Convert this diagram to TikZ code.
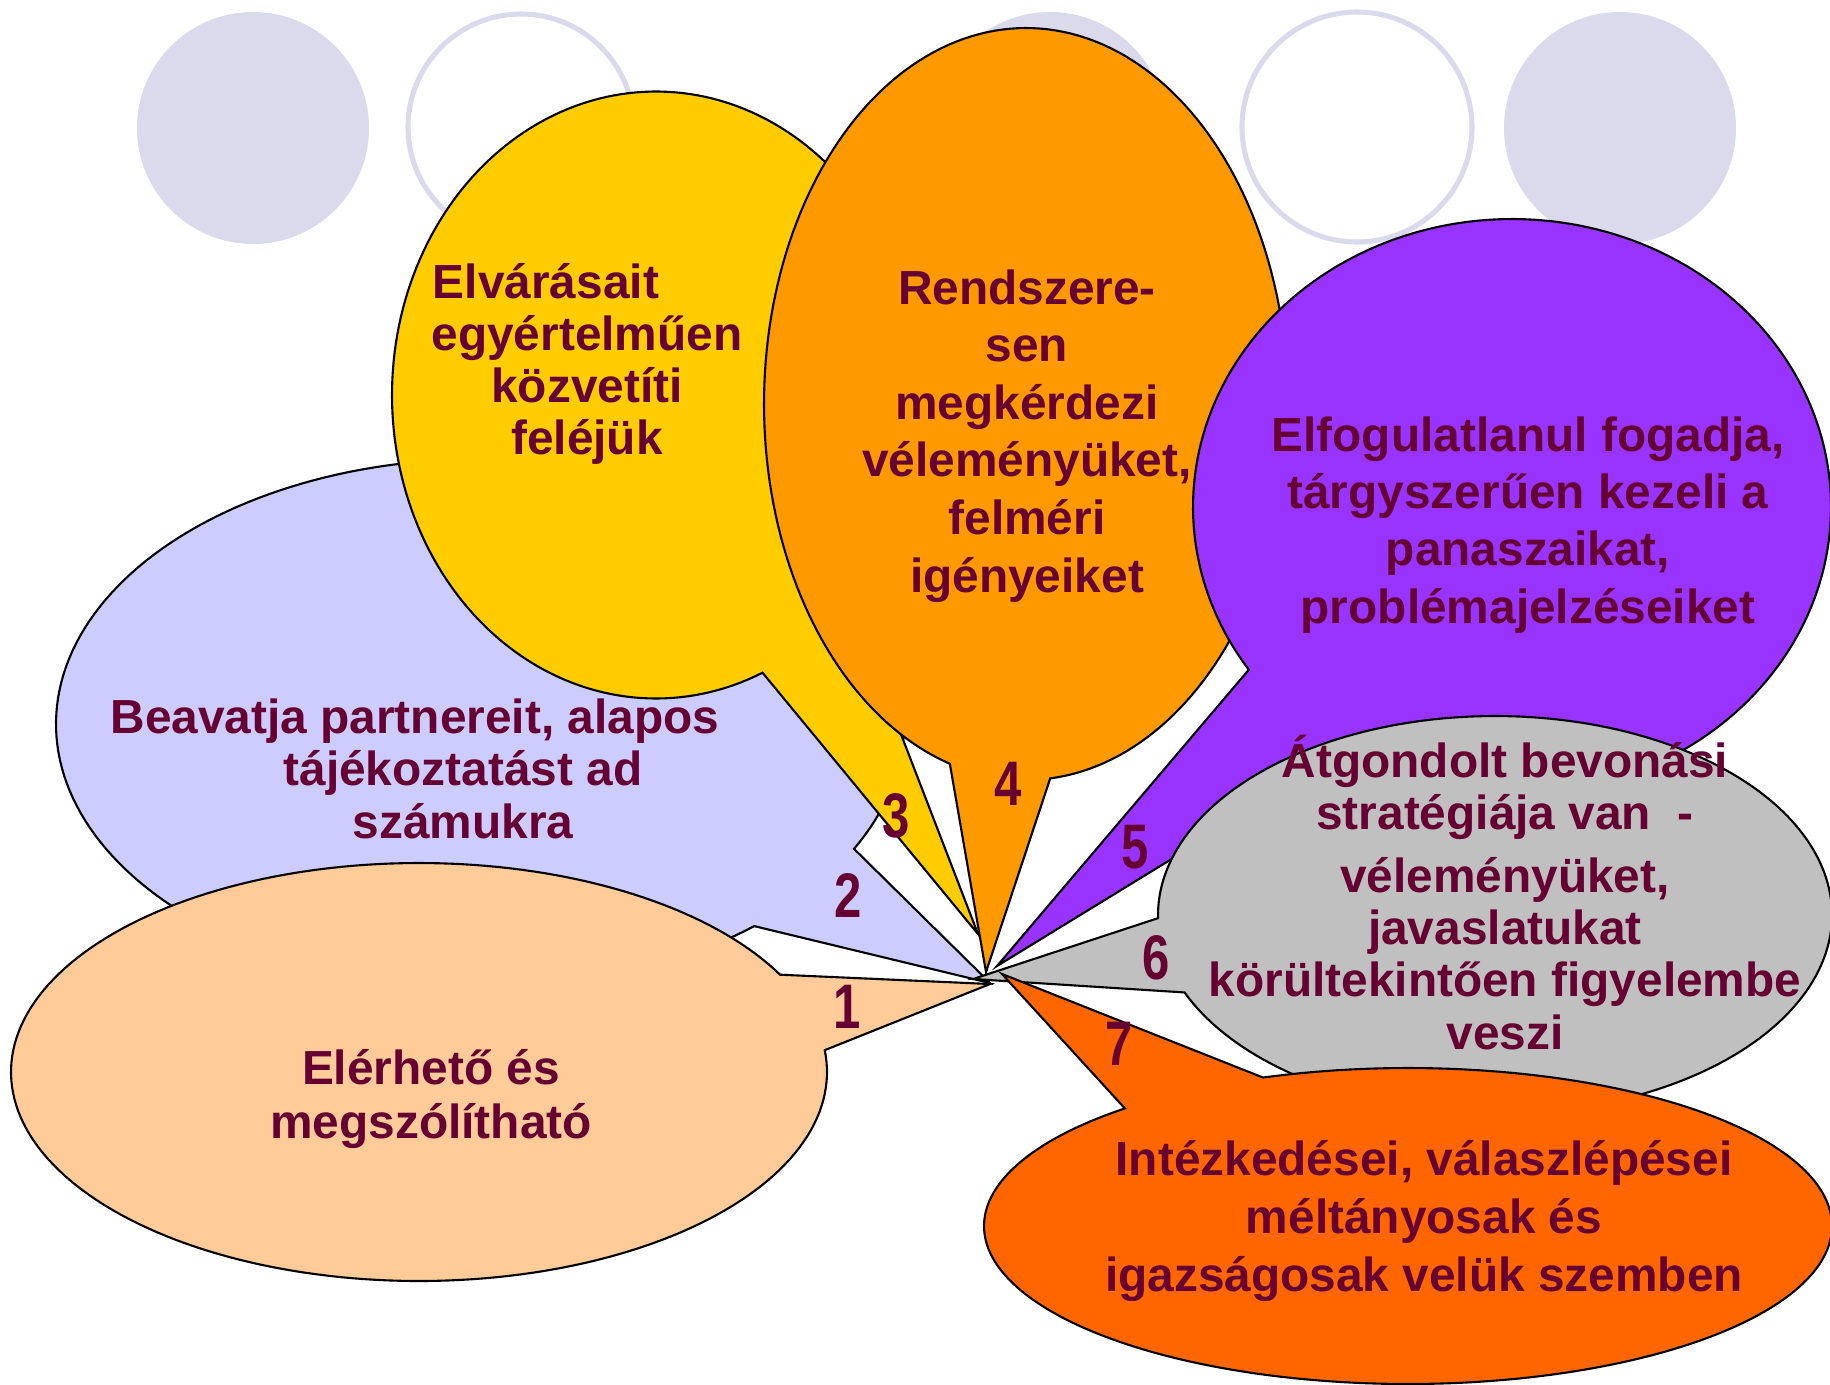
\documentclass[tikz,border=0pt]{standalone}
\usepackage{fontspec}
\setmainfont{Liberation Sans}
\newfontfamily\numfont[FakeStretch=0.78]{Liberation Sans}
\definecolor{cLav}{HTML}{CCCCFF}
\definecolor{cPeach}{HTML}{FFCC99}
\definecolor{cGold}{HTML}{FFCC00}
\definecolor{cAmber}{HTML}{FF9900}
\definecolor{cPurple}{HTML}{9933FF}
\definecolor{cSilver}{HTML}{C0C0C0}
\definecolor{cRed}{HTML}{FF6600}
\definecolor{cMaroon}{HTML}{660033}
\definecolor{cDeco}{HTML}{DADAEC}
\tikzset{
  bub/.style={draw=black, line width=0.6pt},
  txt/.style={text=cMaroon, font=\bfseries\fontsize{13.6}{#1}\selectfont, align=center, inner sep=0pt, anchor=base},
  num/.style={text=cMaroon, font=\numfont\bfseries\fontsize{17.9}{18}\selectfont, inner sep=0pt, anchor=base},
  decofill/.style={fill=cDeco},
  decoring/.style={draw=cDeco, line width=1.45pt},
}
\begin{document}
\begin{tikzpicture}[x=0.01cm, y=-0.01cm]
\useasboundingbox (0,0) rectangle (1830,1384);
\fill[white] (0,0) rectangle (1830,1384);
\clip (0,0) rectangle (1830,1384);
% background decoration circles
\fill[decofill] (253,128) circle[radius=116];
\draw[decoring] (521,127) circle[radius=113];
\fill[decofill] (1050,128) circle[radius=116];
\draw[decoring] (1357,127) circle[radius=115];
\fill[decofill] (1620,128) circle[radius=116];
% 2 lavender
\draw[bub, fill=cLav] plot[variable=\t, domain=49.7:388.1, samples=200] ({480+424*cos(\t)},{724+265*sin(\t)}) -- (990,983) -- cycle;
\node[txt=14.8pt] (t2) at (463,838) {Beavatja partnereit, alapos\kern0.96cm\\tájékoztatást ad\\számukra};
% 1 peach
\draw[bub, fill=cPeach] plot[variable=\t, domain=-6:332.25, samples=200] ({419+408*cos(\t)},{1072+209*sin(\t)}) -- (990,984) -- cycle;
\node[txt=15.1pt] (t1) at (431,1138) {Elérhető és\\megszólítható};
% 3 yellow
\draw[bub, fill=cGold] plot[variable=\t, domain=66.2:402.8, samples=200] ({656+264*cos(\t)},{395+303.5*sin(\t)}) -- (978,934) -- cycle;
\node[txt=14.7pt] (t3) at (587,454) {Elvárásait\kern0.82cm\\egyértelműen\\közvetíti\\feléjük};
% 4 orange
\draw[bub, fill=cAmber] plot[variable=\t, domain=106.9:444.7, samples=200] ({1026+262*cos(\t)},{404+376*sin(\t)}) -- (986,972) -- cycle;
\node[txt=16.36pt] (t4) at (1027,592) {Rendszere-\\sen\\megkérdezi\\véleményüket,\\felméri\\igényeiket};
% 5 purple
\draw[bub, fill=cPurple] plot[variable=\t, domain=145.6:481.5, samples=200] ({1512+319*cos(\t)},{507+288*sin(\t)}) -- (997,966) -- cycle;
\node[txt=16.3pt] (t5) at (1528,623) {Elfogulatlanul fogadja,\\tárgyszerűen kezeli a\\panaszaikat,\\problémajelzéseiket};
% 6 gray
\draw[bub, fill=cSilver] plot[variable=\t, domain=179.1:517.1, samples=200] ({1495+337*cos(\t)},{915+199*sin(\t)}) -- (973,979) -- cycle;
\node[txt=14.8pt] (t6) at (1505,1049) {Átgondolt bevonási\\stratégiája van~~-\\[3.1pt]véleményüket,\\javaslatukat\\körültekintően figyelembe\\veszi};
% 7 red-orange
\draw[bub, fill=cRed] plot[variable=\t, domain=250:588.1, samples=200] ({1408+424*cos(\t)},{1226+158*sin(\t)}) -- (1002,974) -- cycle;
\node[txt=16.36pt] (t7) at (1424,1291) {Intézkedései, válaszlépései\\méltányosak és\\igazságosak velük szemben};
% numbers
\node[num] (n1) at (847,1028) {1};
\node[num] (n2) at (848,917) {2};
\node[num] (n3) at (896,837) {3};
\node[num] (n4) at (1008,805) {4};
\node[num] (n5) at (1135,868) {5};
\node[num] (n6) at (1156,979) {6};
\node[num] (n7) at (1119,1065) {7};
\end{tikzpicture}
\end{document}
